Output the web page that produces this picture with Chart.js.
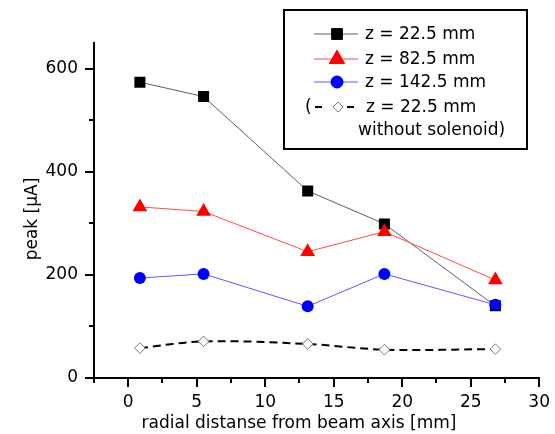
<!DOCTYPE html>
<html>
<head>
<meta charset="utf-8">
<script src="https://cdn.jsdelivr.net/npm/chart.js@4.4.1/dist/chart.umd.min.js"></script>
<style>
html,body{margin:0;padding:0;background:#fff;}
canvas{display:block;}
</style>
</head>
<body>
<canvas id="c" width="555" height="434"></canvas>
<script>
// ---- data ----
const radial = [0.85, 5.5, 13.1, 18.7, 26.8];
const peakZ225 = [574, 546, 363, 299, 140];
const peakZ825 = [332, 323, 245, 284, 190];
const peakZ1425 = [194, 202, 139, 202, 142];
const peakNoSolenoid = [58, 71, 66, 55, 56];
const xTickValues = [0, 5, 10, 15, 20, 25, 30];
const yTickValues = [0, 200, 400, 600];
const xMinorTicks = [-2.5, 2.5, 7.5, 12.5, 17.5, 22.5, 27.5];
const yMinorTicks = [100, 300, 500];
const legendTexts = ['z = 22.5 mm', 'z = 82.5 mm', 'z = 142.5 mm', 'z = 22.5 mm', 'without solenoid)'];
const xTitle = 'radial distanse from beam axis [mm]';
const yTitle = 'peak [\u03bcA]';

const FONT = 'DejaVu Sans';
const pts = ys => radial.map((x, i) => ({x: x, y: ys[i]}));

const overlay = {
  id: 'overlay',
  afterDraw(chart) {
    const ctx = chart.ctx;
    const xs = chart.scales.x, ys = chart.scales.y;
    const a = chart.chartArea;
    ctx.save();
    // minor ticks
    ctx.strokeStyle = '#000';
    ctx.lineWidth = 2;
    xMinorTicks.forEach(v => {
      const px = Math.round(xs.getPixelForValue(v));
      ctx.beginPath(); ctx.moveTo(px, a.bottom); ctx.lineTo(px, a.bottom + 5); ctx.stroke();
    });
    yMinorTicks.forEach(v => {
      const py = Math.round(ys.getPixelForValue(v));
      ctx.beginPath(); ctx.moveTo(a.left, py); ctx.lineTo(a.left - 5, py); ctx.stroke();
    });
    // axis titles
    ctx.fillStyle = '#000';
    ctx.font = '17px "' + FONT + '"';
    ctx.textAlign = 'center';
    ctx.textBaseline = 'alphabetic';
    ctx.fillText(xTitle, 299, 428);
    ctx.save();
    ctx.translate(37, 219);
    ctx.rotate(-Math.PI / 2);
    ctx.fillText(yTitle, 0, 0);
    ctx.restore();

    // legend
    ctx.lineWidth = 2;
    ctx.strokeStyle = '#000';
    ctx.strokeRect(284, 10, 243, 139);
    const ds = chart.data.datasets;
    const rows = [34, 59, 82, 107];
    const drawMarker = (d, x, y) => {
      Chart.helpers.drawPoint(ctx, {
        pointStyle: d.pointStyle, rotation: 0, radius: d.legendRadius, borderWidth: d.pointBorderWidth || 1
      }, x, y);
    };
    for (let i = 0; i < 3; i++) {
      const d = ds[i], y = rows[i];
      ctx.strokeStyle = d.borderColor; ctx.lineWidth = 1; ctx.setLineDash([]);
      ctx.beginPath(); ctx.moveTo(314, y); ctx.lineTo(358, y); ctx.stroke();
      ctx.fillStyle = d.pointBackgroundColor; ctx.strokeStyle = d.pointBorderColor;
      ctx.lineWidth = 1;
      drawMarker(d, 337, y);
      ctx.fill(); 
      ctx.fillStyle = '#000';
      ctx.textAlign = 'left'; ctx.textBaseline = 'middle';
      ctx.fillText(legendTexts[i], 365, y + 1);
    }
    // row 4
    const d4 = ds[3], y4 = rows[3];
    ctx.fillStyle = '#000';
    ctx.textAlign = 'left'; ctx.textBaseline = 'middle';
    ctx.fillText('(', 305, y4 + 1);
    ctx.strokeStyle = '#000'; ctx.lineWidth = 2;
    ctx.beginPath(); ctx.moveTo(315, y4); ctx.lineTo(322, y4); ctx.stroke();
    ctx.beginPath(); ctx.moveTo(347, y4); ctx.lineTo(354, y4); ctx.stroke();
    ctx.fillStyle = '#fff'; ctx.strokeStyle = d4.pointBorderColor; ctx.lineWidth = 1;
    Chart.helpers.drawPoint(ctx, {pointStyle: 'rectRot', rotation: 0, radius: 5, borderWidth: 1}, 338, y4);
    ctx.fillStyle = '#000';
    ctx.fillText(legendTexts[3], 366, y4 + 1);
    ctx.fillText(legendTexts[4], 358, 131);
    ctx.restore();
  }
};

new Chart(document.getElementById('c'), {
  type: 'scatter',
  data: {
    datasets: [
      {
        data: pts(peakZ225), showLine: true, order: 4,
        borderColor: '#606060', borderWidth: 1,
        pointStyle: 'rect', pointRadius: 7.8, legendRadius: 7.6,
        pointBackgroundColor: '#000', pointBorderColor: '#000', pointBorderWidth: 0
      },
      {
        data: pts(peakZ825), showLine: true, order: 3,
        borderColor: '#ff4a4a', borderWidth: 1,
        pointStyle: 'triangle', pointRadius: 8.5, legendRadius: 8.8,
        pointBackgroundColor: '#ff0000', pointBorderColor: '#ff0000', pointBorderWidth: 0
      },
      {
        data: pts(peakZ1425), showLine: true, order: 2,
        borderColor: '#5a5aff', borderWidth: 1,
        pointStyle: 'circle', pointRadius: 6, legendRadius: 6,
        pointBackgroundColor: '#0000ff', pointBorderColor: '#0000ff', pointBorderWidth: 0
      },
      {
        data: pts(peakNoSolenoid), showLine: true, order: 1,
        borderColor: '#000', borderWidth: 2, borderDash: [8, 5], tension: 0.35,
        pointStyle: 'rectRot', pointRadius: 5.3, legendRadius: 5,
        pointBackgroundColor: '#fff', pointBorderColor: '#777', pointBorderWidth: 1
      }
    ]
  },
  options: {
    responsive: false,
    animation: false,
    events: [],
    layout: {padding: {top: 43, right: 15, left: 0, bottom: 0}},
    plugins: {legend: {display: false}, tooltip: {enabled: false}},
    scales: {
      x: {
        type: 'linear', min: -2.5, max: 30,
        afterBuildTicks: s => { s.ticks = xTickValues.map(v => ({value: v})); },
        afterFit: s => { s.height = 56; },
        border: {display: true, color: '#000', width: 2},
        grid: {display: true, drawOnChartArea: false, drawTicks: true, tickLength: 9, color: '#000', lineWidth: 2},
        ticks: {color: '#000', padding: 5, maxRotation: 0, font: {family: FONT, size: 17}, callback: v => String(v)}
      },
      y: {
        type: 'linear', min: 0, max: 650,
        afterBuildTicks: s => { s.ticks = yTickValues.map(v => ({value: v})); },
        afterFit: s => { s.width = 94; },
        border: {display: true, color: '#000', width: 2},
        grid: {display: true, drawOnChartArea: false, drawTicks: true, tickLength: 9, color: '#000', lineWidth: 2},
        ticks: {color: '#000', padding: 7, font: {family: FONT, size: 17}, callback: v => String(v)}
      }
    }
  },
  plugins: [overlay]
});
</script>
</body>
</html>
